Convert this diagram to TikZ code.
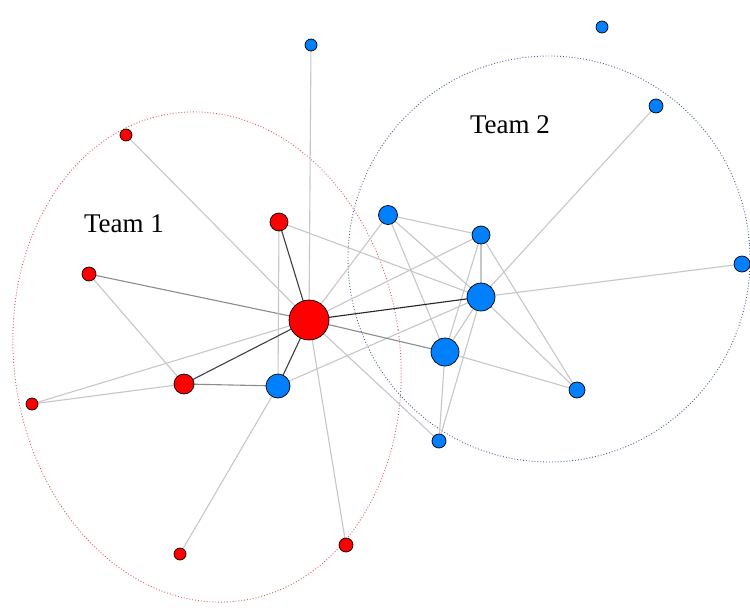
\documentclass[tikz,border=0pt]{standalone}
\usepackage{fontspec}
\setmainfont{Liberation Serif}
\definecolor{nred}{RGB}{255,0,0}
\definecolor{nblue}{RGB}{0,128,255}
\definecolor{ered}{RGB}{225,90,90}
\definecolor{eblue}{RGB}{70,100,150}
\begin{document}
\begin{tikzpicture}[x=1pt,y=-1pt,
  rn/.style={circle,draw=black,line width=0.7pt,fill=nred,inner sep=0pt,minimum size=#1},
  bn/.style={circle,draw=black,line width=0.7pt,fill=nblue,inner sep=0pt,minimum size=#1},
  ed/.style={draw=black!22,line width=1.1pt},
  edm/.style={draw=black!45,line width=1.1pt},
  edd/.style={draw=black!75,line width=1.1pt},
  team/.style={font=\fontsize{27}{29}\selectfont}]
\useasboundingbox (0,0) rectangle (750,608);
\fill[white] (0,0) rectangle (750,608);
% group ellipses
\coordinate (c1) at (207,357);
\coordinate (c2) at (549,259);
\draw[ered,line width=0.9pt,dotted,rotate around={8:(c1)}] (c1) ellipse [x radius=193,y radius=246];
\draw[eblue,line width=0.9pt,dotted,rotate around={4:(c2)}] (c2) ellipse [x radius=201,y radius=203];
% node positions
\coordinate (H) at (309,320);
\coordinate (pR1) at (126,135);
\coordinate (pR2) at (279,222);
\coordinate (pR3) at (89,274);
\coordinate (pR4) at (184,384);
\coordinate (pR5) at (32,404);
\coordinate (pR6) at (180,554);
\coordinate (pR7) at (346,545);
\coordinate (pBt) at (311,45);
\coordinate (pBtr) at (602,27);
\coordinate (pBtr2) at (656,106);
\coordinate (pBa) at (388,215);
\coordinate (pBb) at (481,235);
\coordinate (pBc) at (481,297);
\coordinate (pBd) at (445,352);
\coordinate (pBe) at (577,390);
\coordinate (pBf) at (439,441);
\coordinate (pBr) at (742,264);
\coordinate (pBg) at (278,386);
% edges
\draw[ed] (pR1) -- (H);
\draw[ed] (pBt) -- (H);
\draw[edm] (pR3) -- (H);
\draw[ed] (pR5) -- (H);
\draw[ed] (pR5) -- (pR4);
\draw[ed] (pR3) -- (pR4);
\draw[edm] (pR4) -- (pBg);
\draw[ed] (pR2) -- (pBg);
\draw[ed] (pR2) -- (pBc);
\draw[ed] (pR6) -- (pBg);
\draw[ed] (pR7) -- (H);
\draw[ed] (pBg) -- (pBc);
\draw[ed] (H) -- (pBa);
\draw[ed] (H) -- (pBb);
\draw[ed] (H) -- (pBf);
\draw[ed] (pBa) -- (pBb);
\draw[ed] (pBa) -- (pBc);
\draw[ed] (pBa) -- (pBd);
\draw[ed] (pBb) -- (pBc);
\draw[ed] (pBb) -- (pBd);
\draw[ed] (pBb) -- (pBe);
\draw[ed] (pBc) -- (pBd);
\draw[ed] (pBc) -- (pBe);
\draw[ed] (pBc) -- (pBf);
\draw[ed] (pBd) -- (pBf);
\draw[ed] (pBd) -- (pBe);
\draw[ed] (pBc) -- (pBtr2);
\draw[ed] (pBc) -- (pBr);
\draw[edm] (H) -- (pBd);
\draw[edd] (H) -- (pR2);
\draw[edd] (H) -- (pR4);
\draw[edd] (H) -- (pBg);
\draw[draw=black!85,line width=1.1pt] (H) -- (pBc);
% node circles
\node[rn=40pt] (hub) at (H) {};
\node[rn=12pt] (R1) at (pR1) {};
\node[rn=18pt] (R2) at (pR2) {};
\node[rn=14pt] (R3) at (pR3) {};
\node[rn=20pt] (R4) at (pR4) {};
\node[rn=12pt] (R5) at (pR5) {};
\node[rn=12pt] (R6) at (pR6) {};
\node[rn=14pt] (R7) at (pR7) {};
\node[bn=12pt] (Bt) at (pBt) {};
\node[bn=12pt] (Btr) at (pBtr) {};
\node[bn=14pt] (Btr2) at (pBtr2) {};
\node[bn=19pt] (Ba) at (pBa) {};
\node[bn=18pt] (Bb) at (pBb) {};
\node[bn=28pt] (Bc) at (pBc) {};
\node[bn=28pt] (Bd) at (pBd) {};
\node[bn=16pt] (Be) at (pBe) {};
\node[bn=14pt] (Bf) at (pBf) {};
\node[bn=16pt] (Br) at (pBr) {};
\node[bn=24pt] (Bg) at (pBg) {};
% labels
\node[team] (t1) at (124,224) {Team 1};
\node[team] (t2) at (510,125) {Team 2};
\end{tikzpicture}
\end{document}
